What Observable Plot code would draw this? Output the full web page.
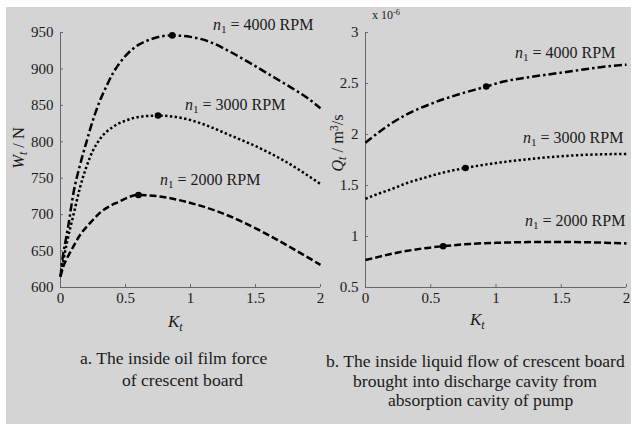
<!DOCTYPE html>
<html><head><meta charset="utf-8">
<script src="https://cdn.jsdelivr.net/npm/d3@7"></script>
<script src="https://cdn.jsdelivr.net/npm/@observablehq/plot@0.6"></script>
<style>
body{margin:0;background:#fff;}
#wrap{position:relative;width:631px;height:424px;overflow:hidden;font-family:"Liberation Serif","Times New Roman",serif;color:#1a1a1a;background:#fff;}
#bg{position:absolute;left:6px;top:7px;right:0;bottom:0;background:#d4d4d4;}
.abs{position:absolute;white-space:nowrap;line-height:1;}
.plot{position:absolute;top:0;}
.lbl{font-size:16px;}
.cap{font-size:17.6px;}
sub{font-size:70%;vertical-align:-0.3em;line-height:0;}
sup{font-size:70%;vertical-align:0.45em;line-height:0;}
.rot{transform:translate(-50%,-50%) rotate(-90deg);font-size:16.5px;}
</style></head>
<body>
<div id="wrap">
  <div id="bg"></div>
  <div id="p1" class="plot" style="left:0px"></div>
  <div id="p2" class="plot" style="left:305px"></div>

  <div class="abs lbl" style="left:213px;top:17px"><i>n</i><sub>1</sub> = 4000 RPM</div>
  <div class="abs lbl" style="left:185px;top:97px"><i>n</i><sub>1</sub> = 3000 RPM</div>
  <div class="abs lbl" style="left:160px;top:172px"><i>n</i><sub>1</sub> = 2000 RPM</div>

  <div class="abs lbl" style="left:515px;top:45px"><i>n</i><sub>1</sub> = 4000 RPM</div>
  <div class="abs lbl" style="left:523px;top:130px"><i>n</i><sub>1</sub> = 3000 RPM</div>
  <div class="abs lbl" style="left:525px;top:213px"><i>n</i><sub>1</sub> = 2000 RPM</div>

  <div class="abs" style="left:372px;top:9px;font-size:12px">x 10<sup>-6</sup></div>

  <div class="abs rot" style="left:19px;top:148px"><i>W</i><sub><i>t</i></sub> / N</div>
  <div class="abs rot" style="left:338px;top:143px"><i>Q</i><sub><i>t</i></sub> / m<sup>3</sup>/s</div>

  <div class="abs lbl" style="left:168px;top:313px;font-size:17px"><i>K</i><sub><i>t</i></sub></div>
  <div class="abs lbl" style="left:470px;top:311px;font-size:17px"><i>K</i><sub><i>t</i></sub></div>

  <div class="abs cap" style="left:80px;top:350px">a. The inside oil film force</div>
  <div class="abs cap" style="left:122px;top:372px">of crescent board</div>
  <div class="abs cap" style="left:326px;top:353px">b. The inside liquid flow of crescent board</div>
  <div class="abs cap" style="left:353px;top:373px">brought into discharge cavity from</div>
  <div class="abs cap" style="left:388px;top:392px">absorption cavity of pump</div>
</div>
<script>
// ---- Data: panel a (oil film force W_t, N) ----
const kW4000 = [0, 0.02, 0.04, 0.06, 0.1, 0.15, 0.2, 0.25, 0.3, 0.35, 0.4, 0.5, 0.6, 0.7, 0.85, 1.0, 1.15, 1.3, 1.45, 1.6, 1.75, 1.9, 2.0];
const w4000  = [615, 645, 665, 685, 730, 768, 800, 830, 855, 875, 893, 918, 933, 941, 946, 944, 937, 924, 909, 893, 877, 860, 846];
const kW3000 = [0, 0.02, 0.05, 0.1, 0.15, 0.2, 0.25, 0.3, 0.4, 0.5, 0.6, 0.75, 0.95, 1.1, 1.33, 1.5, 1.72, 2.0];
const w3000  = [615, 635, 662, 700, 737, 766, 788, 803, 820, 829, 834, 836, 832, 824, 807, 794, 774, 742];
const kW2000 = [0, 0.02, 0.05, 0.08, 0.15, 0.23, 0.3, 0.44, 0.6, 0.8, 1.0, 1.2, 1.4, 1.6, 1.8, 2.0];
const w2000  = [615, 628, 640, 650, 672, 689, 702, 717, 727, 724, 716, 705, 690, 672, 652, 631];
const wPeakK = [0.86, 0.75, 0.6];
const wPeakV = [946, 836, 727];

// ---- Data: panel b (liquid flow Q_t, x 10^-6 m^3/s) ----
const kQ4000 = [0, 0.05, 0.1, 0.2, 0.32, 0.5, 0.73, 0.925, 1.03, 1.3, 1.55, 1.8, 2.0];
const q4000  = [1.92, 1.97, 2.02, 2.11, 2.2, 2.3, 2.4, 2.47, 2.51, 2.57, 2.615, 2.66, 2.685];
const kQ3000 = [0, 0.1, 0.2, 0.32, 0.45, 0.575, 0.766, 1.0, 1.34, 1.6, 2.0];
const q3000  = [1.37, 1.42, 1.465, 1.525, 1.575, 1.62, 1.672, 1.72, 1.77, 1.795, 1.81];
const kQ2000 = [0, 0.1, 0.2, 0.3, 0.45, 0.595, 0.8, 1.0, 1.25, 1.5, 1.75, 2.0];
const q2000  = [0.77, 0.80, 0.83, 0.855, 0.885, 0.905, 0.927, 0.938, 0.945, 0.947, 0.942, 0.932];
const qPeakK = [0.925, 0.766, 0.595];
const qPeakV = [2.47, 1.672, 0.905];

// ---- Ticks ----
const xTicks = [0, 0.5, 1, 1.5, 2];
const wTicks = [600, 650, 700, 750, 800, 850, 900, 950];
const qTicks = [0.5, 1, 1.5, 2, 2.5, 3];

const dashes = {"4000": "8,3,2.5,3", "3000": "2.4,2.4", "2000": "7,3"};

function zip(ks, vs){ return ks.map((k,i)=>({k, v: vs[i]})); }

function panel(series, peaks, yDomain, yTicks, width, marginRight){
  const marks = [
    Plot.ruleX([0], {stroke:"#666", strokeWidth:1}),
    Plot.ruleY([yDomain[0]], {stroke:"#666", strokeWidth:1}),
    Plot.axisX(xTicks, {tickSize:-3, tickPadding:8, stroke:"#666", fill:"#1a1a1a", fontSize:15, tickFormat:d=>String(d), label:null}),
    Plot.axisY(yTicks, {tickSize:-3, tickPadding:10, stroke:"#666", fill:"#1a1a1a", fontSize:15, tickFormat:d=>String(d), label:null}),
  ];
  for (const s of series) {
    marks.push(Plot.line(s.data, {x:"k", y:"v", stroke:"#000", strokeWidth:2.5, strokeDasharray:dashes[s.n], strokeLinecap:"butt", curve:"monotone-x"}));
  }
  marks.push(Plot.dot(peaks, {x:"k", y:"v", r:3.3, fill:"#000"}));
  return Plot.plot({
    width, height:320,
    marginLeft:60, marginRight, marginTop:32, marginBottom:33,
    x:{domain:[0,2]},
    y:{domain:yDomain},
    style:{background:"transparent", fontFamily:"'Liberation Serif', serif", fontSize:"15px", overflow:"visible"},
    marks
  });
}

const p1 = panel(
  [{n:"4000", data:zip(kW4000,w4000)}, {n:"3000", data:zip(kW3000,w3000)}, {n:"2000", data:zip(kW2000,w2000)}],
  zip(wPeakK, wPeakV), [600, 950], wTicks, 330, 10);
const p2 = panel(
  [{n:"4000", data:zip(kQ4000,q4000)}, {n:"3000", data:zip(kQ3000,q3000)}, {n:"2000", data:zip(kQ2000,q2000)}],
  zip(qPeakK, qPeakV), [0.5, 3], qTicks, 326, 5);
document.getElementById("p1").appendChild(p1);
document.getElementById("p2").appendChild(p2);
</script>
</body></html>
